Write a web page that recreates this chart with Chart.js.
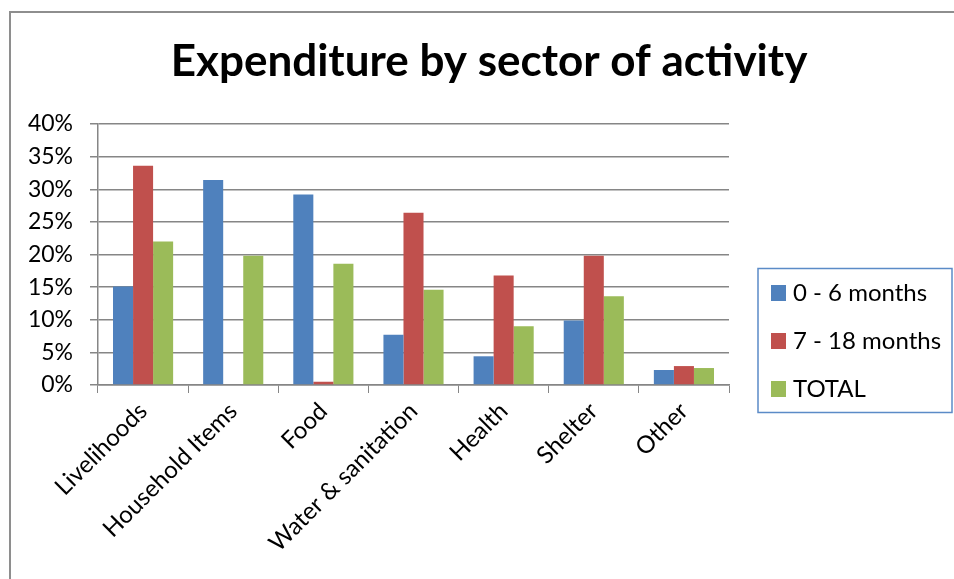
<!DOCTYPE html>
<html>
<head>
<meta charset="utf-8">
<script src="https://cdn.jsdelivr.net/npm/chart.js@4.4.1/dist/chart.umd.min.js"></script>
<style>
  html, body { margin: 0; padding: 0; background: #fff; }
  #wrap { width: 954px; height: 579px; position: relative; }
</style>
</head>
<body>
<div id="wrap"><canvas id="sectorChart"></canvas></div>
<script>
// Chart data
const TITLE = "Expenditure by sector of activity";
const sectors = ["Livelihoods", "Household Items", "Food", "Water & sanitation", "Health", "Shelter", "Other"];
const seriesNames = ["0 - 6 months", "7 - 18 months", "TOTAL"];
const months0to6 = [15.1, 31.4, 29.2, 7.7, 4.4, 9.9, 2.3];
const months7to18 = [33.6, 0, 0.5, 26.4, 16.8, 19.8, 2.9];
const totals = [22.0, 19.8, 18.6, 14.6, 9.0, 13.6, 2.6];
const yTicks = [0, 5, 10, 15, 20, 25, 30, 35, 40];

const FONT = "Lato, 'Open Sans', sans-serif";
const colors = ["#4f81bd", "#c0504d", "#9bbb59"];

// Frame, title and legend drawn like the office chart
const decorPlugin = {
    id: "decor",
    afterDraw(chart) {
        const ctx = chart.ctx;
        ctx.save();

        // outer frame (left + top edges visible)
        ctx.strokeStyle = "#8e8e8e";
        ctx.lineWidth = 2;
        ctx.beginPath();
        ctx.moveTo(10, 600);
        ctx.lineTo(10, 12);
        ctx.lineTo(960, 12);
        ctx.stroke();

        // title
        ctx.fillStyle = "#000";
        ctx.font = "bold 44px " + FONT;
        ctx.textAlign = "center";
        ctx.textBaseline = "alphabetic";
        ctx.fillText(TITLE, 489, 76);

        // legend
        ctx.strokeStyle = "#5b8bc7";
        ctx.lineWidth = 1.5;
        ctx.strokeRect(758, 268.5, 194, 144);
        ctx.font = "24px " + FONT;
        ctx.textAlign = "left";
        ctx.textBaseline = "middle";
        chart.data.datasets.forEach((ds, i) => {
            const cy = 293 + i * 48;
            ctx.fillStyle = ds.backgroundColor;
            ctx.fillRect(771, cy - 8, 15, 16);
            ctx.fillStyle = "#000";
            ctx.fillText(ds.label, 793, cy);
        });
        ctx.restore();
    }
};

document.addEventListener("DOMContentLoaded", function () {
    const canvas = document.getElementById("sectorChart");

    new Chart(canvas, {
        type: "bar",
        data: {
            labels: sectors,
            datasets: [
                { label: seriesNames[0], data: months0to6, backgroundColor: colors[0] },
                { label: seriesNames[1], data: months7to18, backgroundColor: colors[1] },
                { label: seriesNames[2], data: totals, backgroundColor: colors[2] }
            ]
        },
        options: {
            responsive: true,
            maintainAspectRatio: false,
            animation: false,
            layout: {
                padding: { top: 124, right: 225, bottom: 0, left: 0 }
            },
            datasets: {
                bar: { categoryPercentage: 0.667, barPercentage: 1.0 }
            },
            plugins: {
                legend: { display: false },
                title: { display: false },
                tooltip: { enabled: false }
            },
            scales: {
                x: {
                    afterFit: (scale) => { scale.height = 194; },
                    grid: {
                        drawOnChartArea: false,
                        drawTicks: true,
                        tickLength: 8,
                        color: "#868686"
                    },
                    border: { color: "#868686", width: 1.5 },
                    ticks: {
                        color: "#000",
                        font: { family: FONT, size: 24 },
                        maxRotation: 45,
                        minRotation: 45,
                        autoSkip: false,
                        padding: 4
                    }
                },
                y: {
                    min: 0,
                    max: 40,
                    afterFit: (scale) => { scale.width = 98; },
                    afterBuildTicks: (scale) => {
                        scale.ticks = yTicks.map(v => ({ value: v }));
                    },
                    grid: {
                        color: "#868686",
                        lineWidth: 1.5,
                        tickLength: 8
                    },
                    border: { color: "#868686", width: 1.5 },
                    ticks: {
                        color: "#000",
                        font: { family: FONT, size: 23 },
                        padding: 17,
                        callback: (v) => v + "%"
                    }
                }
            }
        },
        plugins: [decorPlugin]
    });
});
</script>
</body>
</html>
